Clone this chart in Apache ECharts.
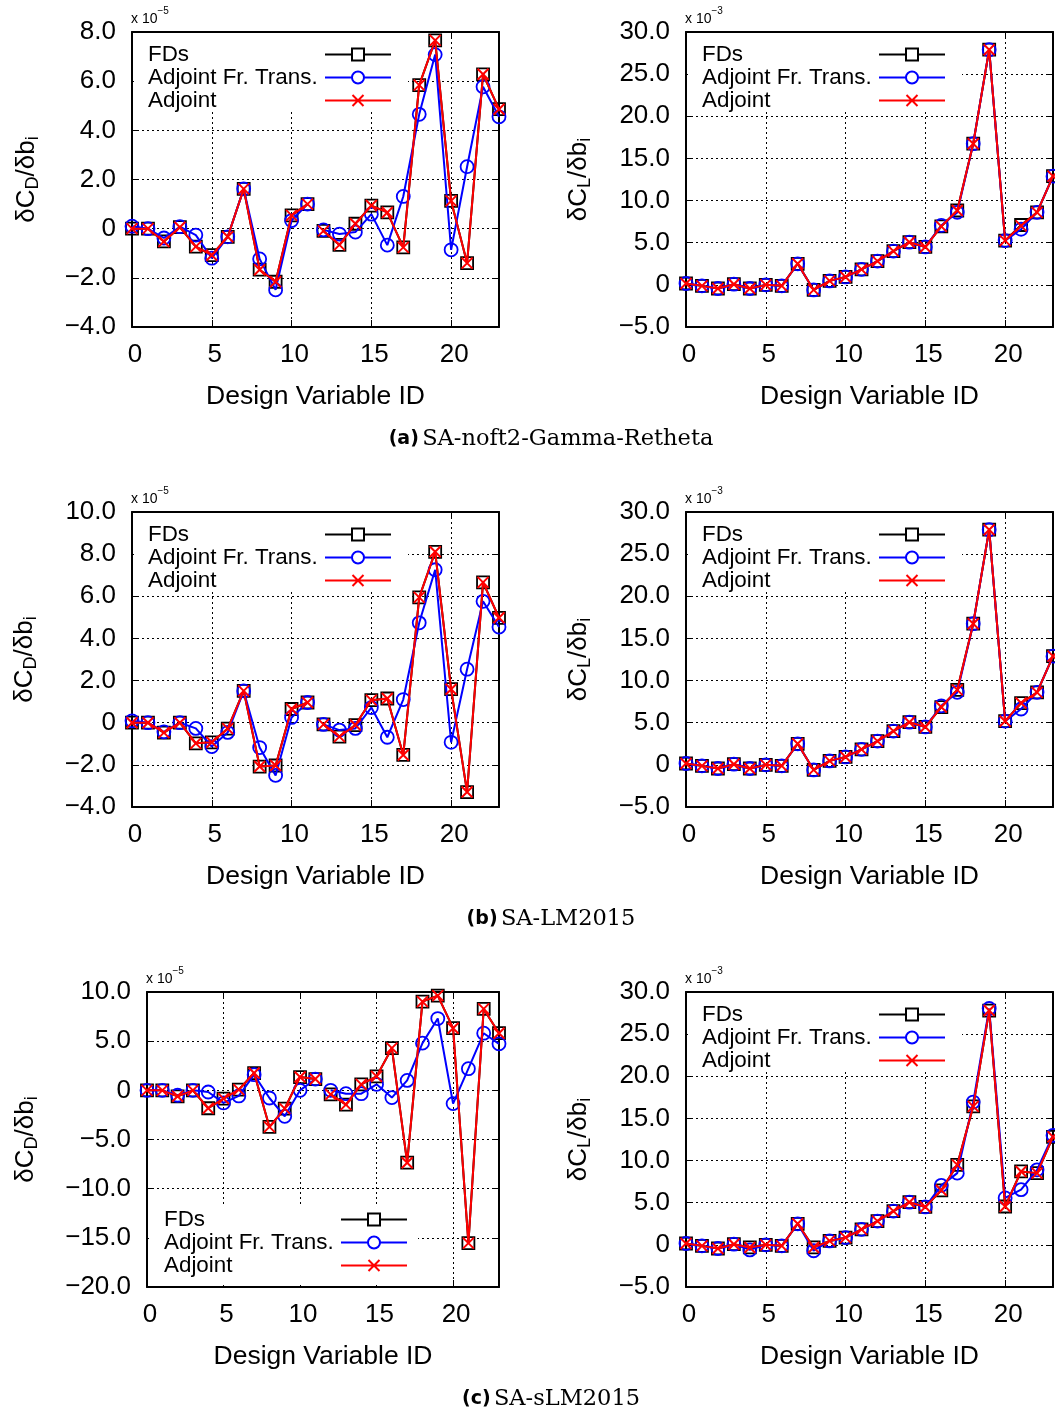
<!DOCTYPE html>
<html>
<head>
<meta charset="utf-8">
<script src="https://cdn.jsdelivr.net/npm/echarts@6/dist/echarts.min.js"></script>
<style>
  html, body { margin: 0; padding: 0; background: #fff; }
  #chart { width: 1055px; height: 1412px; }
</style>
</head>
<body>
<div id="chart"></div>
<script>
// Design variable indices (x axis of every panel)
const designVariableIds = [0, 1, 2, 3, 4, 5, 6, 7, 8, 9, 10, 11, 12, 13, 14, 15, 16, 17, 18, 19, 20, 21, 22, 23];
const xTickValues = [0, 5, 10, 15, 20];

// Drag sensitivities, units of 1e-5
const cdTicksA = [-4, -2, 0, 2, 4, 6, 8];
const cdFDsA = [0.00, 0.00, -0.52, 0.06, -0.73, -1.08, -0.33, 1.62, -1.67, -2.16, 0.54, 1.00, -0.09, -0.66, 0.20, 0.94, 0.66, -0.76, 5.84, 7.66, 1.13, -1.40, 6.28, 4.86];
const cdFrozenA = [0.10, 0.00, -0.38, 0.08, -0.26, -1.20, -0.33, 1.62, -1.23, -2.49, 0.33, 1.00, -0.05, -0.22, -0.14, 0.59, -0.67, 1.31, 4.65, 7.08, -0.86, 2.52, 5.77, 4.55];
const cdAdjointA = [0.00, 0.00, -0.52, 0.06, -0.73, -1.08, -0.33, 1.62, -1.67, -2.16, 0.54, 1.00, -0.09, -0.66, 0.20, 0.94, 0.66, -0.76, 5.84, 7.66, 1.13, -1.40, 6.28, 4.86];

const cdTicksB = [-4, -2, 0, 2, 4, 6, 8, 10];
const cdFDsB = [0.00, 0.00, -0.47, 0.00, -0.98, -0.93, -0.28, 1.51, -2.08, -2.03, 0.65, 0.96, -0.08, -0.66, -0.11, 1.07, 1.15, -1.53, 5.95, 8.11, 1.59, -3.29, 6.66, 4.98];
const cdFrozenB = [0.09, 0.00, -0.43, 0.00, -0.27, -1.13, -0.46, 1.51, -1.18, -2.50, 0.25, 0.96, -0.08, -0.35, -0.27, 0.72, -0.69, 1.10, 4.74, 7.26, -0.93, 2.54, 5.76, 4.54];
const cdAdjointB = [0.00, 0.00, -0.47, 0.00, -0.98, -0.93, -0.28, 1.51, -2.08, -2.03, 0.65, 0.96, -0.08, -0.66, -0.11, 1.07, 1.15, -1.53, 5.95, 8.11, 1.59, -3.29, 6.66, 4.98];

const cdTicksC = [-20, -15, -10, -5, 0, 5, 10];
const cdFDsC = [0.00, 0.00, -0.61, 0.00, -1.82, -0.84, 0.07, 1.76, -3.72, -1.86, 1.35, 1.15, -0.41, -1.45, 0.61, 1.42, 4.29, -7.36, 9.02, 9.63, 6.32, -15.54, 8.28, 5.81];
const cdFrozenC = [0.00, 0.00, -0.50, 0.00, -0.17, -1.28, -0.57, 1.59, -0.78, -2.64, 0.00, 1.15, 0.00, -0.34, -0.34, 0.61, -0.74, 1.01, 4.80, 7.30, -1.35, 2.20, 5.81, 4.73];
const cdAdjointC = [0.00, 0.00, -0.61, 0.00, -1.82, -0.84, 0.07, 1.76, -3.72, -1.86, 1.35, 1.15, -0.41, -1.45, 0.61, 1.42, 4.29, -7.36, 9.02, 9.63, 6.32, -15.54, 8.28, 5.81];

// Lift sensitivities, units of 1e-3
const clTicks = [-5, 0, 5, 10, 15, 20, 25, 30];
const clFDsA = [0.16, -0.12, -0.43, 0.08, -0.43, 0.00, -0.12, 2.50, -0.60, 0.47, 0.94, 1.84, 2.82, 4.00, 5.06, 4.50, 6.94, 8.82, 16.75, 27.90, 5.25, 7.10, 8.60, 12.90];
const clFrozenA = [0.16, -0.12, -0.43, 0.08, -0.43, 0.00, -0.12, 2.50, -0.60, 0.47, 0.94, 1.84, 2.82, 4.00, 5.06, 4.50, 7.05, 8.60, 16.75, 27.90, 5.25, 6.60, 8.60, 12.90];
const clAdjointA = [0.16, -0.12, -0.43, 0.08, -0.43, 0.00, -0.12, 2.50, -0.60, 0.47, 0.94, 1.84, 2.82, 4.00, 5.06, 4.50, 6.94, 8.82, 16.75, 27.90, 5.25, 7.00, 8.60, 12.90];

const clFDsB = [0.16, -0.12, -0.43, 0.08, -0.43, 0.00, -0.12, 2.50, -0.60, 0.47, 0.94, 1.84, 2.82, 4.00, 5.06, 4.50, 6.86, 8.90, 16.75, 27.90, 5.18, 7.33, 8.60, 12.90];
const clFrozenB = [0.16, -0.12, -0.43, 0.08, -0.43, 0.00, -0.12, 2.50, -0.60, 0.47, 0.94, 1.84, 2.82, 4.00, 5.06, 4.50, 7.00, 8.60, 16.75, 27.90, 5.18, 6.63, 8.60, 12.90];
const clAdjointB = [0.16, -0.12, -0.43, 0.08, -0.43, 0.00, -0.12, 2.50, -0.60, 0.47, 0.94, 1.84, 2.82, 4.00, 5.06, 4.50, 6.86, 8.90, 16.75, 27.90, 5.18, 7.33, 8.60, 12.90];

const clFDsC = [0.16, -0.12, -0.43, 0.08, -0.31, 0.00, -0.12, 2.50, -0.31, 0.47, 0.86, 1.84, 2.82, 4.00, 5.06, 4.50, 6.47, 9.49, 16.43, 27.80, 4.55, 8.71, 8.51, 12.82];
const clFrozenC = [0.16, -0.12, -0.43, 0.08, -0.60, 0.00, -0.12, 2.50, -0.70, 0.47, 0.86, 1.84, 2.82, 4.00, 5.06, 4.50, 7.06, 8.51, 16.94, 28.04, 5.57, 6.55, 8.90, 13.00];
const clAdjointC = [0.16, -0.12, -0.43, 0.08, -0.31, 0.00, -0.12, 2.50, -0.31, 0.47, 0.86, 1.84, 2.82, 4.00, 5.06, 4.50, 6.47, 9.49, 16.43, 27.80, 4.55, 8.71, 8.51, 12.82];

const methodNames = ['FDs', 'Adjoint Fr. Trans.', 'Adjoint'];
const caseLabels = ['(a)', '(b)', '(c)'];
const caseNames = ['SA-noft2-Gamma-Retheta', 'SA-LM2015', 'SA-sLM2015'];

// ---------------------------------------------------------------------------
const FONT = 'Liberation Sans';
const CLEAR = 'rgba(0,0,0,0)';
const methodStyles = [
  { color: '#000000', symbol: 'rect', size: 12,
    icon: 'path://M0,6H27M39,6H66M27,0H39V12H27Z' },
  { color: '#0000ff', symbol: 'circle', size: 13,
    icon: 'path://M0,6H27M39,6H66M39,6A6,6,0,1,1,27,6A6,6,0,1,1,39,6' },
  { color: '#ff0000', symbol: 'path://M0,0L10,10M10,0L0,10', size: 11,
    icon: 'path://M0,6H66M27.5,0.5L38.5,11.5M38.5,0.5L27.5,11.5' }
];

const panels = [
  { grid: { left: 132, top: 32, width: 367, height: 295 }, ticks: cdTicksA, exp: '−5', coef: 'D',
    series: [cdFDsA, cdFrozenA, cdAdjointA], gapAfter: 11, legend: { left: 134, top: 33, padding: [10, 16, 0, 14] }, nameGap: 90 },
  { grid: { left: 686, top: 32, width: 367, height: 295 }, ticks: clTicks, exp: '−3', coef: 'L',
    series: [clFDsA, clFrozenA, clAdjointA], gapAfter: -1, legend: { left: 688, top: 33, padding: [10, 16, 0, 14] }, nameGap: 92 },
  { grid: { left: 132, top: 512, width: 367, height: 295 }, ticks: cdTicksB, exp: '−5', coef: 'D',
    series: [cdFDsB, cdFrozenB, cdAdjointB], gapAfter: 11, legend: { left: 134, top: 513, padding: [10, 16, 0, 14] }, nameGap: 92 },
  { grid: { left: 686, top: 512, width: 367, height: 295 }, ticks: clTicks, exp: '−3', coef: 'L',
    series: [clFDsB, clFrozenB, clAdjointB], gapAfter: -1, legend: { left: 688, top: 513, padding: [10, 16, 0, 14] }, nameGap: 92 },
  { grid: { left: 147, top: 992, width: 352, height: 295 }, ticks: cdTicksC, exp: '−5', coef: 'D',
    series: [cdFDsC, cdFrozenC, cdAdjointC], gapAfter: 11, legend: { left: 149, top: 1207, padding: [1, 10, 8, 15] }, nameGap: 106 },
  { grid: { left: 686, top: 992, width: 367, height: 295 }, ticks: clTicks, exp: '−3', coef: 'L',
    series: [clFDsC, clFrozenC, clAdjointC], gapAfter: -1, legend: { left: 688, top: 993, padding: [10, 16, 0, 14] }, nameGap: 92 }
];
const captionY = [439, 919, 1399];

function tickText(v) {
  return v === 0 ? '0' : v.toFixed(1).replace('-', '\u2212');
}

// Pairs (id, value); a missing point splits the polyline where the runs are separate
function toPoints(values, gapAfter) {
  const pts = [];
  values.forEach((v, i) => {
    pts.push([designVariableIds[i], v]);
    if (i === gapAfter) pts.push([designVariableIds[i] + 0.5, '-']);
  });
  return pts;
}

const dotted = { color: '#000', width: 1, type: [2, 3] };
const grids = [], xAxes = [], yAxes = [], series = [], legends = [], graphics = [];

panels.forEach((p, k) => {
  grids.push(Object.assign({ containLabel: false }, p.grid));
  const yMin = p.ticks[0], yMax = p.ticks[p.ticks.length - 1], yStep = p.ticks[1] - p.ticks[0];
  const xMin = xTickValues[0], xMax = designVariableIds[designVariableIds.length - 1];
  const xStep = xTickValues[1] - xTickValues[0];
  const baseX = {
    type: 'value', gridIndex: k, min: xMin, max: xMax, interval: xStep,
    axisLine: { onZero: false, lineStyle: { color: '#000', width: 2 } },
    axisTick: { inside: true, length: 7, lineStyle: { color: '#000', width: 1 } }
  };
  xAxes.push(Object.assign({}, baseX, {
    position: 'bottom',
    axisLabel: { margin: 15, fontSize: 26, fontFamily: FONT, color: '#000', showMaxLabel: false, padding: [0, 0, 0, 6] },
    splitLine: { show: true, lineStyle: dotted },
    name: 'Design Variable ID', nameLocation: 'middle', nameGap: 56,
    nameTextStyle: { fontSize: 26.5, fontFamily: FONT, color: '#000' }
  }));
  xAxes.push(Object.assign({}, baseX, {
    position: 'top', axisLabel: { show: false }, splitLine: { show: false }
  }));
  const baseY = {
    type: 'value', gridIndex: k, min: yMin, max: yMax, interval: yStep,
    axisLine: { onZero: false, lineStyle: { color: '#000', width: 2 } },
    axisTick: { inside: true, length: 7, lineStyle: { color: '#000', width: 1 } }
  };
  yAxes.push(Object.assign({}, baseY, {
    position: 'left',
    axisLabel: { margin: 16, fontSize: 26, fontFamily: FONT, color: '#000', formatter: tickText },
    splitLine: { show: true, lineStyle: dotted },
    name: '{m|δC}{s|' + p.coef + '}{m|/δb}{s|i}', nameLocation: 'middle', nameRotate: 90, nameGap: p.nameGap,
    nameTextStyle: {
      color: '#000',
      rich: {
        m: { fontSize: 26, fontFamily: FONT, color: '#000', lineHeight: 28, verticalAlign: 'top' },
        s: { fontSize: 18, fontFamily: FONT, color: '#000', lineHeight: 18, verticalAlign: 'bottom', padding: [14, 0, 0, 0] }
      }
    }
  }));
  yAxes.push(Object.assign({}, baseY, {
    position: 'right', axisLabel: { show: false }, splitLine: { show: false }
  }));

  p.series.forEach((vals, m) => {
    const st = methodStyles[m];
    series.push({
      type: 'line', name: methodNames[m],
      xAxisIndex: 2 * k, yAxisIndex: 2 * k,
      data: toPoints(vals, p.gapAfter),
      symbol: st.symbol, symbolSize: st.size, showAllSymbol: true,
      lineStyle: { color: st.color, width: 2 },
      itemStyle: { color: CLEAR, borderColor: st.color, borderWidth: m === 2 ? 2 : 1.8 },
      emphasis: { disabled: true }, silent: true, animation: false, z: 2 + m
    });
  });

  legends.push({
    orient: 'vertical', left: p.legend.left, top: p.legend.top, padding: p.legend.padding,
    backgroundColor: '#fff', itemGap: 0, itemWidth: 66, itemHeight: 12, align: 'right',
    selectedMode: false, z: 6,
    formatter: n => '{t|' + n + '}',
    textStyle: {
      width: 172, color: '#000', fontSize: 22.4, lineHeight: 23, fontFamily: FONT,
      rich: { t: { fontSize: 22.4, lineHeight: 23, align: 'left', fontFamily: FONT, color: '#000' } }
    },
    data: methodNames.map((n, m) => ({
      name: n, icon: methodStyles[m].icon,
      itemStyle: { color: CLEAR, borderColor: methodStyles[m].color, borderWidth: 2 }
    }))
  });

  // exponent note above the top-left corner of the frame
  graphics.push({
    type: 'text', left: p.grid.left - 1, top: p.grid.top - 26, silent: true,
    style: {
      text: '{m|x 10}{e|' + p.exp + '}',
      rich: {
        m: { fontSize: 14, fontFamily: FONT, fill: '#000', lineHeight: 20, verticalAlign: 'bottom' },
        e: { fontSize: 10, fontFamily: FONT, fill: '#000', lineHeight: 12, verticalAlign: 'top' }
      }
    }
  });
});

caseLabels.forEach((lab, i) => {
  graphics.push({
    type: 'text', x: 551, y: captionY[i], silent: true,
    style: {
      text: '{b|' + lab + '} {s|' + caseNames[i] + '}',
      align: 'center', verticalAlign: 'middle',
      rich: {
        b: { fontSize: 19, fontFamily: 'DejaVu Sans', fontWeight: 'bold', fill: '#000' },
        s: { fontSize: 22.5, fontFamily: 'DejaVu Serif', fill: '#000' }
      }
    }
  });
});

const chart = echarts.init(document.getElementById('chart'), null, { renderer: 'canvas' });
chart.setOption({
  backgroundColor: '#fff',
  animation: false,
  textStyle: { fontFamily: FONT, color: '#000' },
  grid: grids, xAxis: xAxes, yAxis: yAxes, series: series, legend: legends, graphic: graphics
});
</script>
</body>
</html>
